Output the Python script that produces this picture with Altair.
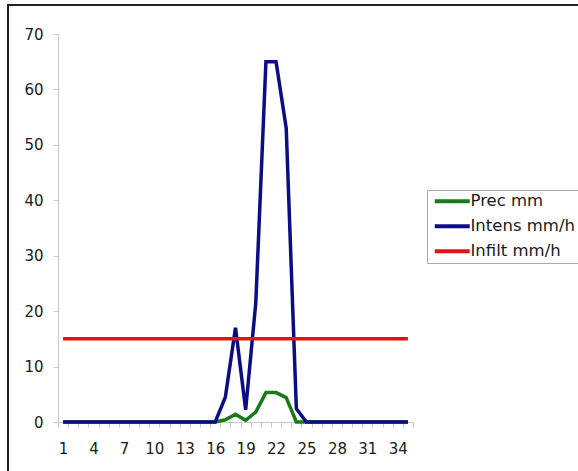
import altair as alt
import pandas as pd

steps = list(range(1, 36))
prec = [0] * 16 + [0.4, 1.4, 0.3, 1.8, 5.3, 5.3, 4.4, 0] + [0] * 11
intens = [0] * 16 + [4.5, 17, 2.2, 21.5, 65, 65, 53, 2.4] + [0] * 11
infilt = [15] * 35

names = ["Prec mm", "Intens mm/h", "Infilt mm/h"]
colors = ["#1a7a1a", "#0c0c86", "#dd1515"]

rows = []
for name, vals in zip(names, [prec, intens, infilt]):
    for s, v in zip(steps, vals):
        rows.append({"step": s, "value": v, "series": name})
df = pd.DataFrame(rows)

FONT = "DejaVu Sans"

x_enc = alt.X(
    "step:Q",
    scale=alt.Scale(domain=[0.5, 35.5], nice=False, zero=False),
    axis=alt.Axis(
        values=[i + 0.5 for i in range(0, 36)],
        labelExpr="((datum.value + 0.5) % 3 == 1 && datum.value < 35) ? format(datum.value + 0.5, 'd') : ''",
        labelOffset=5.07,
        labelOverlap=False,
        labelBound=False,
        labelFlush=False,
        grid=False,
        domainColor="#c8c8c8",
        tickColor="#c8c8c8",
        tickSize=5,
        labelPadding=14,
        labelFont=FONT,
        labelFontSize=15,
        labelColor="#1a1a1a",
    ),
    title=None,
)
y_enc = alt.Y(
    "value:Q",
    scale=alt.Scale(domain=[0, 70], nice=False),
    axis=alt.Axis(
        values=list(range(0, 71, 10)),
        grid=False,
        domainColor="#c8c8c8",
        tickColor="#c8c8c8",
        tickSize=5,
        labelPadding=10,
        labelFont=FONT,
        labelFontSize=15,
        labelColor="#1a1a1a",
    ),
    title=None,
)
color_enc = alt.Color(
    "series:N",
    scale=alt.Scale(domain=names, range=colors),
    legend=alt.Legend(
        title=None,
        orient="none",
        legendX=369,
        legendY=156,
        symbolType="M-5,0H5",
        symbolSize=49,
        symbolStrokeWidth=4,
        symbolOffset=14,
        labelOffset=10,
        labelFont=FONT,
        labelFontSize=16.5,
        labelColor="#1a1a1a",
        rowPadding=8,
        padding=3,
        strokeColor="#aaaaaa",
        fillColor="white",
    ),
)

base = alt.Chart(df)
layers = []
for name in names:
    layers.append(
        base.transform_filter(alt.datum.series == name)
        .mark_line(strokeWidth=3.5)
        .encode(x=x_enc, y=y_enc, color=color_enc)
    )

border = (
    alt.Chart(pd.DataFrame({"a": [0]}))
    .mark_rect(fillOpacity=0, stroke="#222222", strokeWidth=2)
    .encode(x=alt.value(-50), x2=alt.value(600), y=alt.value(-29), y2=alt.value(500))
)

chart = (
    alt.layer(border, *layers)
    .properties(
        width=355,
        height=388,
        autosize=alt.AutoSizeParams(type="none"),
        padding={"left": 58, "top": 34, "right": 165, "bottom": 49},
        background="white",
    )
    .configure_view(stroke=None)
)

chart.save("out.html", embed_options={"renderer": "svg", "actions": False})
